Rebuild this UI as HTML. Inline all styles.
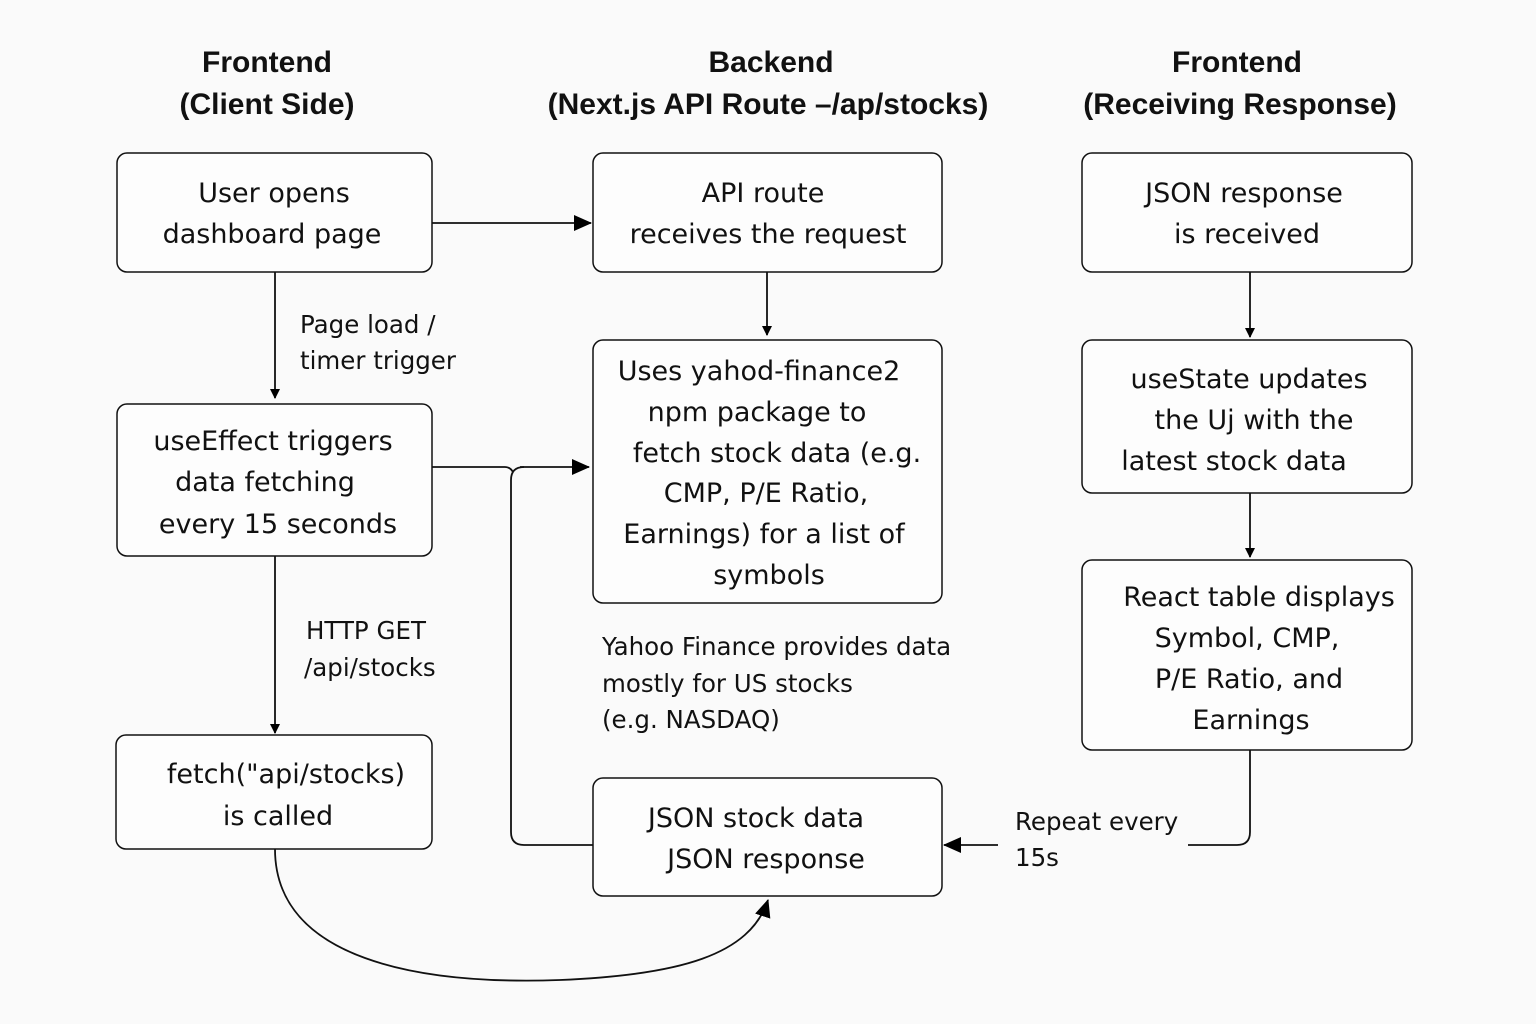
<!DOCTYPE html>
<html><head><meta charset="utf-8"><style>
html,body{margin:0;padding:0;background:#fafafa;}
svg{display:block}
text{font-family:"Liberation Sans","DejaVu Sans",sans-serif;fill:#111;}
.h{font-weight:bold;font-size:30px;text-anchor:middle}
.b{font-family:"DejaVu Sans",sans-serif;font-size:27px;text-anchor:middle}
.l{font-family:"DejaVu Sans",sans-serif;font-size:24.5px}
</style></head><body>
<svg width="1536" height="1024" viewBox="0 0 1536 1024">
<defs><marker id="a" markerWidth="10" markerHeight="10" refX="9" refY="5" orient="auto" markerUnits="userSpaceOnUse" viewBox="0 0 10 10"><path d="M0,0 L10,5 L0,10z" fill="#000"/></marker>
<marker id="a2" markerWidth="18" markerHeight="18" refX="17" refY="9" orient="auto" markerUnits="userSpaceOnUse" viewBox="0 0 18 18"><path d="M0,1 L18,9 L0,17z" fill="#000"/></marker></defs>
<rect width="1536" height="1024" fill="#fafafa"/>
<text class="h" x="267" y="72">Frontend</text>
<text class="h" x="267" y="114">(Client Side)</text>
<text class="h" x="771" y="72">Backend</text>
<text class="h" x="768" y="114">(Next.js API Route –/ap/stocks)</text>
<text class="h" x="1237" y="72">Frontend</text>
<text class="h" x="1240" y="114">(Receiving Response)</text>
<g fill="#fdfdfd" stroke="#111" stroke-width="1.5">
<rect x="117" y="153" width="315" height="119" rx="10"/>
<rect x="593" y="153" width="349" height="119" rx="10"/>
<rect x="1082" y="153" width="330" height="119" rx="10"/>
<rect x="117" y="404" width="315" height="152" rx="10"/>
<rect x="593" y="340" width="349" height="263" rx="10"/>
<rect x="1082" y="340" width="330" height="153" rx="10"/>
<rect x="116" y="735" width="316" height="114" rx="10"/>
<rect x="593" y="778" width="349" height="118" rx="10"/>
<rect x="1082" y="560" width="330" height="190" rx="10"/>
</g>
<text class="b" x="274" y="202">User opens</text>
<text class="b" x="272" y="243">dashboard  page</text>
<text class="b" x="763" y="202">API route</text>
<text class="b" x="768" y="243">receives the request</text>
<text class="b" x="1244" y="202">JSON response</text>
<text class="b" x="1247" y="243">is received</text>
<text class="b" x="273" y="450">useEffect triggers</text>
<text class="b" x="265" y="491">data fetching</text>
<text class="b" x="278" y="533">every 15 seconds</text>
<text class="b" x="759" y="380">Uses yahod-finance2</text>
<text class="b" x="757" y="421">npm package to</text>
<text class="b" x="777" y="462">fetch stock data (e.g.</text>
<text class="b" x="766" y="502">CMP, P/E Ratio,</text>
<text class="b" x="764" y="543">Earnings) for a list of</text>
<text class="b" x="769" y="584">symbols</text>
<text class="b" x="1249" y="388">useState updates</text>
<text class="b" x="1254" y="429">the Uj with the</text>
<text class="b" x="1234" y="470">latest stock data</text>
<text class="b" x="1259" y="606">React table displays</text>
<text class="b" x="1247" y="647">Symbol, CMP,</text>
<text class="b" x="1249" y="688">P/E Ratio, and</text>
<text class="b" x="1251" y="729">Earnings</text>
<text class="b" x="286" y="783">fetch("api/stocks)</text>
<text class="b" x="278" y="825">is called</text>
<text class="b" x="756" y="827">JSON stock data</text>
<text class="b" x="766" y="868">JSON response</text>
<text class="l" x="300" y="333">Page load /</text>
<text class="l" x="300" y="369">timer trigger</text>
<text class="l" x="306" y="639">HTTP GET</text>
<text class="l" x="304" y="676">/api/stocks</text>
<text class="l" x="602" y="655">Yahoo Finance provides data</text>
<text class="l" x="602" y="692">mostly for US stocks</text>
<text class="l" x="602" y="728">(e.g. NASDAQ)</text>
<text class="l" x="1015" y="830">Repeat every</text>
<text class="l" x="1015" y="866">15s</text>
<g stroke="#111" stroke-width="1.8" fill="none">
<path d="M432,223 H591" marker-end="url(#a2)"/>
<path d="M275,272 V398" marker-end="url(#a)"/>
<path d="M767,272 V335" marker-end="url(#a)"/>
<path d="M1250,272 V337" marker-end="url(#a)"/>
<path d="M275,556 V733" marker-end="url(#a)"/>
<path d="M1250,493 V557" marker-end="url(#a)"/>
<path d="M432,467 H505 Q510,467 513,472"/>
<path d="M520,467 H589" marker-end="url(#a2)"/>
<path d="M593,845 H524 Q511,845 511,832 V480 Q511,467 524,467"/>
<path d="M275,849 C275,960 420,985 560,980 C680,975 750,955 768,900" marker-end="url(#a2)"/>
<path d="M1250,750 V832 Q1250,845 1237,845 H1188"/>
<path d="M998,845 H944" marker-end="url(#a2)"/>
</g>
</svg>
</body></html>
